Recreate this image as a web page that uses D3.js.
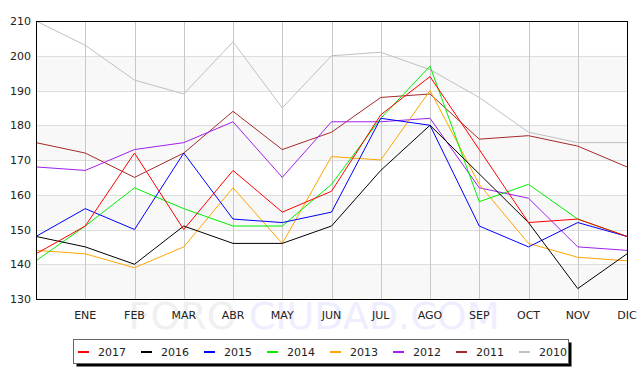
<!DOCTYPE html>
<html>
<head>
<meta charset="utf-8">
<script src="https://cdn.jsdelivr.net/npm/d3@7"></script>
<style>
  body { margin: 0; background: #fff; }
  svg { display: block; font-family: "DejaVu Sans", sans-serif; }
</style>
</head>
<body>
<svg id="chart" width="641" height="378"></svg>
<script>
const months = ["", "ENE", "FEB", "MAR", "ABR", "MAY", "JUN", "JUL", "AGO", "SEP", "OCT", "NOV", "DIC"];
const yTicks = [130, 140, 150, 160, 170, 180, 190, 200, 210];

const years = ["2017", "2016", "2015", "2014", "2013", "2012", "2011", "2010"];
const colors = ["#ff0000", "#000000", "#0000ff", "#00ee00", "#ffa500", "#a020f0", "#a52a2a", "#c0c0c0"];

const v2017 = [143, 151, 172, 150, 167, 155, 161, 183, 194, 173, 152, 153, 148];
const v2016 = [148, 145, 140, 151, 146, 146, 151, 167, 180, 166, 152, 133, 143];
const v2015 = [148, 156, 150, 172, 153, 152, 155, 182, 180, 151, 145, 152, 148];
const v2014 = [141, 151, 162, 156, 151, 151, 163, 182, 197, 158, 163, 153, 148];
const v2013 = [144, 143, 139, 145, 162, 146, 171, 170, 190, 163, 146, 142, 141];
const v2012 = [168, 167, 173, 175, 181, 165, 181, 181, 182, 162, 159, 145, 144];
const v2011 = [175, 172, 165, 172, 184, 173, 178, 188, 189, 176, 177, 174, 168];
const v2010 = [210, 203, 193, 189, 204, 185, 200, 201, 196, 188, 178, 175, 175];

const series = [v2017, v2016, v2015, v2014, v2013, v2012, v2011, v2010];

const svg = d3.select("#chart");
const pl = 36, pr = 627, pt = 21, pb = 299;

const x = d3.scalePoint().domain(d3.range(months.length)).range([pl, pr]);
const y = d3.scaleLinear().domain([130, 210]).range([pb, pt]);

// watermark
const wm = svg.append("text")
  .attr("x", 314).attr("y", 329)
  .attr("text-anchor", "middle")
  .attr("font-size", "38px")
  .attr("font-family", "DejaVu Sans, sans-serif");
wm.append("tspan").text("FORO ").attr("fill", "#f0f0f0");
wm.append("tspan").text("CIUDAD.COM").attr("fill", "#eeeeff");

// alternating bands
svg.append("g").selectAll("rect")
  .data(d3.range(130, 210, 20))
  .join("rect")
  .attr("x", pl).attr("width", pr - pl)
  .attr("y", d => y(d + 10)).attr("height", d => y(d) - y(d + 10))
  .attr("fill", "#f8f8f8");

// horizontal grid
svg.append("g").selectAll("line")
  .data(yTicks.slice(1, -1))
  .join("line")
  .attr("x1", pl).attr("x2", pr)
  .attr("y1", d => Math.round(y(d)) + 0.5).attr("y2", d => Math.round(y(d)) + 0.5)
  .attr("stroke", "#dddddd");

// vertical grid
svg.append("g").selectAll("line")
  .data(d3.range(1, months.length - 1))
  .join("line")
  .attr("x1", d => Math.round(x(d)) + 0.5).attr("x2", d => Math.round(x(d)) + 0.5)
  .attr("y1", pt).attr("y2", pb)
  .attr("stroke", "#c8c8c8");

// lines
const line = d3.line().x((d, i) => x(i)).y(d => y(d));
svg.append("g").selectAll("path")
  .data(series.map((s, i) => ({ s, c: colors[i] })).reverse())
  .join("path")
  .attr("d", d => line(d.s))
  .attr("fill", "none")
  .attr("stroke", d => d.c)
  .attr("stroke-width", 1);

// frame
svg.append("rect")
  .attr("x", pl + 0.5).attr("y", pt + 0.5)
  .attr("width", pr - pl).attr("height", pb - pt)
  .attr("fill", "none").attr("stroke", "#000");

// y labels
svg.append("g").selectAll("text")
  .data(yTicks)
  .join("text")
  .attr("x", 31).attr("y", d => y(d) + 4)
  .attr("text-anchor", "end")
  .attr("font-size", "11px")
  .attr("fill", "#222")
  .text(d => d);

// x labels
svg.append("g").selectAll("text")
  .data(months)
  .join("text")
  .attr("x", (d, i) => x(i)).attr("y", 319)
  .attr("text-anchor", "middle")
  .attr("font-size", "11px")
  .attr("fill", "#222")
  .text(d => d);

// legend
const lg = svg.append("g");
lg.append("rect").attr("x", 76.5).attr("y", 342.5).attr("width", 495).attr("height", 24).attr("fill", "#000");
lg.append("rect").attr("x", 73.5).attr("y", 339.5).attr("width", 495).attr("height", 24)
  .attr("fill", "#fff").attr("stroke", "#666");
const item = lg.selectAll("g.item")
  .data(years)
  .join("g")
  .attr("transform", (d, i) => `translate(${78 + i * 63},351)`);
item.append("line").attr("x1", 0).attr("x2", 11).attr("y1", 1).attr("y2", 1)
  .attr("stroke", (d, i) => colors[i]).attr("stroke-width", 2);
item.append("text").attr("x", 20).attr("y", 5)
  .attr("font-size", "11px").attr("fill", "#222")
  .text(d => d);
</script>
</body>
</html>
